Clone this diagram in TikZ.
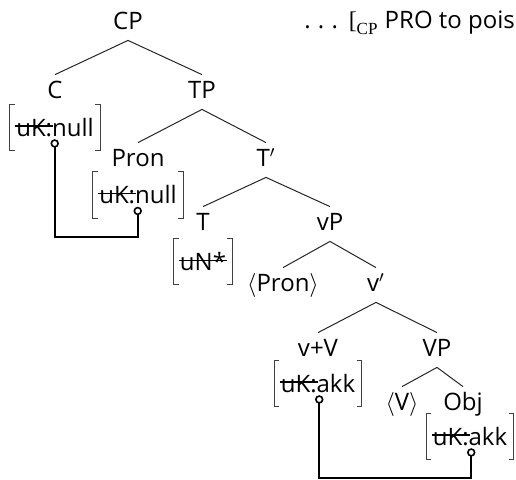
\documentclass[tikz,border=0pt]{standalone}
\usepackage{fontspec}
\setmainfont{Open Sans}
\newfontfamily\glossfont{Liberation Serif}
\newcommand\treefont{\fontsize{12}{14}\selectfont}
\newcommand\struck[1]{\setbox0\hbox{#1}\copy0\llap{\rule[0.4em]{\dimexpr\wd0+1pt\relax}{0.7pt}\hskip-0.5pt}}
\newlength\ukwidth

\begin{document}
\settowidth\ukwidth{\treefont uK:}
\begin{tikzpicture}[
    x=0.5pt, y=-0.5pt,
    % Define styles
    cat/.style={font=\treefont, inner xsep=1pt, inner ysep=2.5pt, text height=9pt, text depth=3pt, anchor=base},
    avm/.style={font=\treefont, inner xsep=3pt, inner ysep=0pt, minimum height=23pt},
    branch/.style={draw=black!85, line width=0.5pt},
    bracket/.style={draw=black!75, line width=0.5pt},
    agree/.style={draw=black, line width=0.8pt},
    probe/.style={draw=black, line width=0.8pt, fill=white}
]
\useasboundingbox (0,0) rectangle (516,479);

% Gloss
\node[font=\treefont, anchor=base west, inner sep=0pt] (gloss) at (304,28)
    {.\kern.3em.\kern.3em.\kern.45em{\glossfont[\raisebox{-.25em}{\fontsize{8.5}{10}\selectfont CP}}\kern.3em PRO to pois};

% Tree labels
\node[cat] (CP) at (128,29) {CP};
\node[cat] (C) at (55,98) {C};
\node[cat] (TP) at (202,98) {TP};
\node[cat] (Pron) at (138,166) {Pron};
\node[cat] (Tbar) at (266,166) {T$'$};
\node[cat] (T) at (203,230) {T};
\node[cat] (vP) at (330,230) {vP};
\node[cat] (PronT) at (283,291) {$\langle$Pron$\rangle$};
\node[cat] (vbar) at (376,291) {v$'$};
\node[cat] (vV) at (318,356) {v+V};
\node[cat] (VP) at (437,356) {VP};
\node[cat] (VT) at (402,410) {$\langle$V$\rangle$};
\node[cat] (Obj) at (463,410) {Obj};

% Branches
\foreach \a/\b in {CP/C, CP/TP, TP/Pron, TP/Tbar, Tbar/T, Tbar/vP, vP/PronT, vP/vbar, vbar/vV, vbar/VP, VP/VT, VP/Obj}
    \draw[branch] (\a.south) -- (\b.north);

% Feature matrices
\node[avm] (Cf) at (55,127.5) {\struck{uK:}null};
\node[avm] (Pf) at (138,195) {\struck{uK:}null};
\node[avm] (Tf) at (203,261.5) {\struck{uN*}};
\node[avm] (Vf) at (318,383.5) {\struck{uK:}akk};
\node[avm] (Of) at (470,436.5) {\struck{uK:}akk};

\foreach \f in {Cf, Pf, Tf, Vf, Of}
    \draw[bracket] ([xshift=2.5pt]\f.north west) -| (\f.south west) -- ++(2.5pt,0)
        ([xshift=-2.5pt]\f.north east) -| (\f.south east) -- ++(-2.5pt,0);

% Agreement
\coordinate (Cdot) at ([shift={(\ukwidth+4.5pt,-3.5pt)}]Cf.base west);
\coordinate (Pdot) at ([shift={(\ukwidth+4.5pt,-3.5pt)}]Pf.base west);
\coordinate (Vdot) at ([shift={(\ukwidth+4.5pt,-3.5pt)}]Vf.base west);
\coordinate (Odot) at ([shift={(\ukwidth+4.5pt,-3.5pt)}]Of.base west);

\draw[agree] (Cdot) -- (Cdot |- 0,237) -| (Pdot);
\draw[agree] (Vdot) -- (Vdot |- 0,478) -| (Odot);
\foreach \d in {Cdot, Pdot, Vdot, Odot}
    \draw[probe] (\d) circle (1.7pt);

\end{tikzpicture}
\end{document}
